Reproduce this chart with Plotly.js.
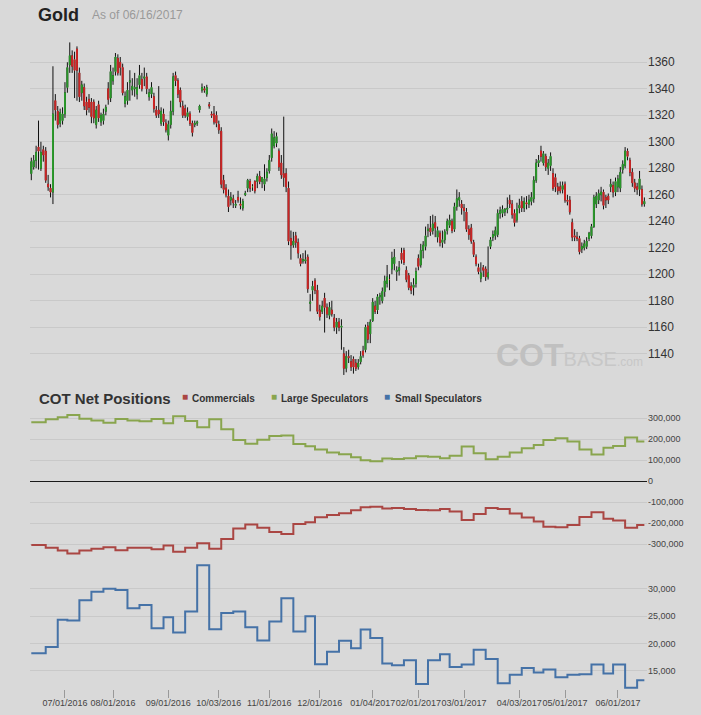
<!DOCTYPE html>
<html>
<head>
<meta charset="utf-8">
<script src="https://cdn.plot.ly/plotly-3.0.1.min.js"></script>
<style>
  html, body { margin: 0; padding: 0; background: #d9d9d9; }
  #chart { width: 701px; height: 715px; }
</style>
</head>
<body>
<div id="chart"></div>
<script>
// exchange holidays inside the period (no daily bar)
var holidays = ['2016-07-04', '2016-09-05', '2016-11-24', '2016-12-26', '2017-01-02',
    '2017-01-16', '2017-02-20', '2017-04-14', '2017-05-29'];
var firstDay = '2016-06-13';
var lastDay = '2017-06-16';

// daily gold OHLC, one value per trading day from firstDay
var open = [1276, 1281, 1286, 1296, 1280, 1294, 1293, 1268, 1265, 1262, 1331, 1323, 1314, 1316, 1321, 1341, 1358, 1365, 1362, 1370,
    1352, 1337, 1341, 1330, 1332, 1330, 1330, 1313, 1328, 1315, 1316, 1323, 1340, 1333, 1346, 1353, 1363, 1360, 1356, 1329,
    1331, 1345, 1339, 1340, 1336, 1343, 1347, 1348, 1349, 1334, 1336, 1334, 1324, 1324, 1314, 1321, 1314, 1305, 1313, 1323,
    1350, 1346, 1339, 1327, 1325, 1319, 1321, 1314, 1313, 1314, 1324, 1339, 1340, 1336, 1328, 1321, 1321, 1320, 1313, 1308,
    1271, 1265, 1259, 1256, 1257, 1252, 1258, 1253, 1250, 1260, 1265, 1270, 1266, 1270, 1270, 1274, 1270, 1268, 1273, 1278,
    1288, 1297, 1299, 1293, 1284, 1276, 1276, 1265, 1227, 1222, 1229, 1224, 1212, 1210, 1210, 1213, 1178, 1188, 1195, 1188,
    1173, 1172, 1182, 1175, 1169, 1173, 1167, 1160, 1164, 1160, 1140, 1129, 1138, 1134, 1136, 1133, 1130, 1134, 1142, 1143,
    1161, 1155, 1165, 1176, 1173, 1183, 1180, 1187, 1193, 1196, 1204, 1208, 1202, 1203, 1216, 1218, 1203, 1199, 1191, 1190,
    1193, 1212, 1207, 1218, 1221, 1233, 1235, 1233, 1239, 1228, 1231, 1224, 1226, 1233, 1237, 1240, 1234, 1251, 1256, 1253,
    1250, 1247, 1234, 1235, 1224, 1213, 1205, 1197, 1205, 1204, 1198, 1221, 1228, 1229, 1230, 1246, 1246, 1247, 1249, 1256,
    1253, 1246, 1241, 1250, 1255, 1250, 1254, 1253, 1255, 1257, 1271, 1284, 1293, 1284, 1289, 1280, 1282, 1276, 1273, 1266,
    1266, 1264, 1268, 1256, 1256, 1239, 1229, 1228, 1227, 1219, 1220, 1221, 1227, 1229, 1236, 1253, 1256, 1260, 1262, 1258,
    1259, 1266, 1267, 1262, 1266, 1265, 1279, 1282, 1293, 1286, 1277, 1269, 1266, 1264, 1264, 1253];
var high = [1288, 1290, 1297, 1316, 1300, 1297, 1296, 1275, 1268, 1357, 1336, 1327, 1325, 1326, 1345, 1360, 1375, 1369, 1368, 1372,
    1356, 1346, 1344, 1334, 1336, 1333, 1332, 1327, 1331, 1322, 1325, 1328, 1345, 1358, 1356, 1367, 1366, 1364, 1359, 1338,
    1345, 1354, 1348, 1352, 1348, 1358, 1352, 1356, 1352, 1340, 1345, 1337, 1327, 1342, 1326, 1325, 1317, 1316, 1331, 1352,
    1353, 1348, 1341, 1331, 1328, 1326, 1323, 1316, 1316, 1316, 1328, 1344, 1342, 1343, 1330, 1323, 1327, 1323, 1316, 1311,
    1275, 1268, 1264, 1262, 1260, 1256, 1263, 1258, 1257, 1263, 1272, 1272, 1268, 1271, 1276, 1278, 1273, 1283, 1280, 1290,
    1310, 1308, 1307, 1295, 1290, 1319, 1280, 1270, 1233, 1232, 1232, 1227, 1215, 1216, 1218, 1215, 1185, 1195, 1197, 1192,
    1177, 1180, 1186, 1178, 1179, 1180, 1170, 1167, 1167, 1166, 1145, 1142, 1143, 1139, 1138, 1136, 1136, 1142, 1146, 1162,
    1164, 1166, 1182, 1180, 1185, 1186, 1190, 1199, 1207, 1200, 1217, 1219, 1206, 1210, 1220, 1220, 1206, 1201, 1194, 1197,
    1205, 1215, 1223, 1225, 1236, 1238, 1244, 1245, 1244, 1236, 1233, 1233, 1234, 1242, 1245, 1242, 1254, 1264, 1262, 1256,
    1253, 1250, 1237, 1238, 1226, 1215, 1208, 1209, 1207, 1206, 1221, 1228, 1233, 1236, 1249, 1251, 1252, 1250, 1258, 1260,
    1256, 1249, 1254, 1257, 1259, 1258, 1259, 1260, 1262, 1274, 1287, 1290, 1297, 1293, 1291, 1287, 1292, 1280, 1276, 1269,
    1270, 1270, 1270, 1260, 1259, 1242, 1234, 1232, 1229, 1224, 1226, 1228, 1232, 1238, 1260, 1262, 1264, 1266, 1264, 1260,
    1261, 1272, 1270, 1273, 1275, 1281, 1286, 1296, 1295, 1288, 1280, 1272, 1269, 1278, 1267, 1258];
var low = [1271, 1279, 1280, 1279, 1278, 1285, 1269, 1263, 1258, 1253, 1316, 1310, 1311, 1313, 1318, 1337, 1352, 1352, 1333, 1331,
    1330, 1331, 1324, 1320, 1322, 1314, 1314, 1310, 1315, 1312, 1313, 1320, 1328, 1330, 1343, 1350, 1350, 1350, 1335, 1326,
    1328, 1331, 1335, 1334, 1332, 1340, 1338, 1342, 1336, 1331, 1333, 1322, 1318, 1318, 1312, 1312, 1307, 1301, 1310, 1320,
    1342, 1333, 1326, 1318, 1318, 1316, 1312, 1304, 1311, 1312, 1322, 1337, 1337, 1334, 1325, 1318, 1313, 1311, 1306, 1265,
    1261, 1258, 1247, 1252, 1250, 1250, 1254, 1249, 1248, 1259, 1262, 1262, 1263, 1261, 1265, 1268, 1265, 1263, 1270, 1276,
    1285, 1295, 1296, 1278, 1272, 1266, 1262, 1222, 1211, 1220, 1220, 1212, 1206, 1208, 1208, 1186, 1172, 1180, 1185, 1170,
    1165, 1170, 1156, 1167, 1166, 1168, 1157, 1155, 1157, 1143, 1124, 1126, 1133, 1127, 1125, 1127, 1128, 1132, 1137, 1141,
    1148, 1148, 1164, 1170, 1170, 1177, 1178, 1183, 1190, 1188, 1200, 1203, 1195, 1199, 1208, 1207, 1194, 1188, 1185, 1184,
    1190, 1203, 1205, 1212, 1218, 1228, 1229, 1230, 1228, 1224, 1221, 1220, 1223, 1230, 1235, 1231, 1232, 1248, 1251, 1245,
    1240, 1232, 1226, 1223, 1213, 1206, 1200, 1194, 1198, 1195, 1196, 1219, 1225, 1226, 1228, 1242, 1243, 1244, 1246, 1250,
    1242, 1236, 1239, 1246, 1247, 1247, 1249, 1250, 1252, 1254, 1269, 1281, 1285, 1282, 1278, 1275, 1278, 1263, 1262, 1260,
    1261, 1261, 1254, 1252, 1245, 1225, 1225, 1225, 1215, 1216, 1218, 1219, 1225, 1227, 1235, 1250, 1253, 1255, 1249, 1250,
    1253, 1262, 1258, 1259, 1262, 1262, 1276, 1280, 1286, 1274, 1266, 1262, 1260, 1259, 1251, 1251];
var close = [1285, 1286, 1292, 1293, 1292, 1290, 1271, 1266, 1262, 1321, 1324, 1313, 1322, 1321, 1337, 1356, 1365, 1357, 1354, 1354,
    1334, 1343, 1327, 1324, 1326, 1319, 1318, 1324, 1318, 1320, 1321, 1326, 1332, 1353, 1350, 1364, 1352, 1356, 1337, 1334,
    1339, 1346, 1342, 1341, 1341, 1350, 1340, 1349, 1340, 1337, 1341, 1325, 1320, 1321, 1323, 1315, 1309, 1313, 1323, 1349,
    1346, 1336, 1330, 1320, 1320, 1322, 1314, 1307, 1314, 1315, 1327, 1341, 1339, 1341, 1327, 1320, 1315, 1314, 1309, 1268,
    1264, 1260, 1251, 1258, 1254, 1253, 1256, 1252, 1255, 1261, 1271, 1265, 1266, 1263, 1274, 1270, 1273, 1272, 1277, 1286,
    1306, 1303, 1304, 1281, 1275, 1273, 1266, 1225, 1222, 1225, 1224, 1216, 1208, 1211, 1211, 1189, 1179, 1191, 1188, 1172,
    1168, 1176, 1175, 1170, 1175, 1170, 1160, 1164, 1160, 1161, 1129, 1138, 1137, 1130, 1130, 1129, 1133, 1138, 1139, 1160,
    1151, 1164, 1179, 1172, 1183, 1184, 1187, 1195, 1198, 1196, 1212, 1213, 1203, 1205, 1211, 1209, 1196, 1190, 1188, 1192,
    1202, 1206, 1218, 1222, 1229, 1234, 1232, 1238, 1235, 1233, 1224, 1226, 1232, 1240, 1241, 1233, 1251, 1257, 1258, 1250,
    1248, 1234, 1230, 1225, 1215, 1208, 1202, 1201, 1203, 1198, 1201, 1226, 1230, 1233, 1246, 1248, 1249, 1249, 1250, 1253,
    1245, 1239, 1249, 1252, 1250, 1255, 1253, 1256, 1258, 1271, 1284, 1286, 1289, 1291, 1281, 1284, 1289, 1265, 1266, 1263,
    1263, 1267, 1256, 1255, 1247, 1228, 1228, 1227, 1217, 1221, 1223, 1225, 1231, 1236, 1258, 1259, 1261, 1262, 1252, 1256,
    1256, 1268, 1262, 1270, 1272, 1277, 1283, 1293, 1289, 1277, 1269, 1265, 1264, 1272, 1253, 1255];

// weekly COT net positions (report Tuesdays), first entry holds the value in force on the first chart day
var cotDates = ['2016-06-13', '2016-06-21', '2016-06-28', '2016-07-05', '2016-07-12', '2016-07-19', '2016-07-26', '2016-08-02',
    '2016-08-09', '2016-08-16', '2016-08-23', '2016-08-30', '2016-09-06', '2016-09-13', '2016-09-20', '2016-09-27',
    '2016-10-04', '2016-10-11', '2016-10-18', '2016-10-25', '2016-11-01', '2016-11-08', '2016-11-15', '2016-11-22',
    '2016-11-29', '2016-12-06', '2016-12-13', '2016-12-20', '2016-12-27', '2017-01-03', '2017-01-10', '2017-01-17',
    '2017-01-24', '2017-01-31', '2017-02-07', '2017-02-14', '2017-02-21', '2017-02-28', '2017-03-07', '2017-03-14',
    '2017-03-21', '2017-03-28', '2017-04-04', '2017-04-11', '2017-04-18', '2017-04-25', '2017-05-02', '2017-05-09',
    '2017-05-16', '2017-05-23', '2017-05-30', '2017-06-06', '2017-06-13'];
var commercials = [-303000, -317000, -330000, -344000, -330000, -321000, -314000, -329000, -317000, -316000, -324000, -306000,
    -335000, -316000, -295000, -321000, -275000, -225000, -206000, -221000, -241000, -251000, -203000, -195000, -171000,
    -160000, -152000, -138000, -124000, -121000, -130000, -127000, -132000, -137000, -138000, -132000, -144000, -184000,
    -156000, -127000, -132000, -154000, -173000, -192000, -216000, -219000, -208000, -170000, -148000, -178000, -187000,
    -221000, -208000];
var largeSpecs = [281000, 295000, 305000, 316000, 298000, 289000, 279000, 297000, 289000, 286000, 297000, 276000, 310000,
    287000, 257000, 295000, 248000, 197000, 179000, 198000, 216000, 218000, 178000, 167000, 151000, 137000, 129000, 114000,
    100000, 95000, 108000, 106000, 110000, 119000, 117000, 110000, 122000, 165000, 133000, 105000, 117000, 137000, 157000,
    173000, 197000, 205000, 189000, 151000, 127000, 160000, 168000, 208000, 189000];
var smallSpecs = [18210, 19360, 24320, 24200, 27880, 29460, 30000, 29760, 26430, 27040, 22800, 24800, 22020, 25830, 34290,
    22620, 25590, 25830, 22990, 20570, 24010, 28250, 22200, 24980, 16210, 18510, 20510, 19120, 22560, 20990, 16340, 16030,
    16940, 12590, 16940, 18030, 15730, 16150, 18870, 17180, 12770, 14280, 15550, 14710, 15250, 13860, 14280, 14400, 16150,
    14520, 16150, 11920, 13310];

var tickDates = ['2016-07-01', '2016-08-01', '2016-09-01', '2016-10-03', '2016-11-01', '2016-12-01', '2017-01-04',
    '2017-02-01', '2017-03-01', '2017-04-03', '2017-05-01', '2017-06-01'];
var tickLabels = ['07/01/2016', '08/01/2016', '09/01/2016', '10/03/2016', '11/01/2016', '12/01/2016', '01/04/2017',
    '02/01/2017', '03/01/2017', '04/03/2017', '05/01/2017', '06/01/2017'];
var priceTicks = [1140, 1160, 1180, 1200, 1220, 1240, 1260, 1280, 1300, 1320, 1340, 1360];
var cotTicks = [-300000, -200000, -100000, 0, 100000, 200000, 300000];
var cotTickText = ['-300,000', '-200,000', '-100,000', '0', '100,000', '200,000', '300,000'];
var smallTicks = [15000, 20000, 25000, 30000];
var smallTickText = ['15,000', '20,000', '25,000', '30,000'];

var UP = '#2b9b2b', DOWN = '#d22626';
var COLORS = { commercials: '#AA4643', large: '#89A54E', small: '#4572A7' };

// trading calendar: weekdays minus holidays
function tradingDays(from, to, skip) {
    var days = [];
    var d = new Date(from + 'T00:00:00Z');
    var end = new Date(to + 'T00:00:00Z');
    while (d <= end) {
        var iso = d.toISOString().slice(0, 10);
        var wd = d.getUTCDay();
        if (wd !== 0 && wd !== 6 && skip.indexOf(iso) < 0) days.push(iso);
        d.setUTCDate(d.getUTCDate() + 1);
    }
    return days;
}
var days = tradingDays(firstDay, lastDay, holidays);

var bodyTop = open.map(function (o, i) { return Math.max(o, close[i]); });
var bodyBottom = open.map(function (o, i) { return Math.min(o, close[i]); });

// hold the last weekly value until the last chart day
var cotX = cotDates.concat([lastDay]);
var hold = function (arr) { return arr.concat([arr[arr.length - 1]]); };

var wicks = {
    type: 'candlestick', x: days, open: open, high: high, low: low, close: close,
    xaxis: 'x', yaxis: 'y', name: 'Gold',
    increasing: { line: { color: '#111', width: 1 }, fillcolor: '#111' },
    decreasing: { line: { color: '#111', width: 1 }, fillcolor: '#111' },
    showlegend: false
};
var bodies = {
    type: 'candlestick', x: days, open: open, high: bodyTop, low: bodyBottom, close: close,
    xaxis: 'x', yaxis: 'y', hoverinfo: 'skip',
    increasing: { line: { color: UP, width: 1 }, fillcolor: UP },
    decreasing: { line: { color: DOWN, width: 1 }, fillcolor: DOWN },
    showlegend: false
};
var lineCom = {
    type: 'scatter', mode: 'lines', name: 'Commercials', x: cotX, y: hold(commercials),
    xaxis: 'x', yaxis: 'y2', line: { color: COLORS.commercials, width: 2, shape: 'hv' }, showlegend: false
};
var lineLarge = {
    type: 'scatter', mode: 'lines', name: 'Large Speculators', x: cotX, y: hold(largeSpecs),
    xaxis: 'x', yaxis: 'y2', line: { color: COLORS.large, width: 2, shape: 'hv' }, showlegend: false
};
var lineSmall = {
    type: 'scatter', mode: 'lines', name: 'Small Speculators', x: cotX, y: hold(smallSpecs),
    xaxis: 'x', yaxis: 'y3', line: { color: COLORS.small, width: 2, shape: 'hv' }, showlegend: false
};

// paper coordinates from page pixels (plot area 30..647 x 35..689)
var px = function (x) { return (x - 30) / 617; };
var py = function (y) { return (689 - y) / 654; };

var legendItems = [
    { label: 'Commercials', color: COLORS.commercials, sq: 185, tx: 190 },
    { label: 'Large Speculators', color: COLORS.large, sq: 274, tx: 279 },
    { label: 'Small Speculators', color: COLORS.small, sq: 387, tx: 393 }
];
var annotations = [
    { text: 'As of 06/16/2017', x: px(90), y: py(15), xanchor: 'left', yanchor: 'middle',
      font: { size: 12, color: '#999' } },
    { text: '<b>COT Net Positions</b>', x: px(37), y: py(398), xanchor: 'left', yanchor: 'middle',
      font: { size: 15, color: '#333' } },
    { text: '<span style="font-weight:bold;font-size:32px;fill:#c0c0c0">COT</span><span style="font-size:20px">BASE</span>' +
            '<span style="font-size:12px">.com</span>',
      x: px(645), y: py(355), xanchor: 'right', yanchor: 'middle', font: { color: '#c7c7c7' } }
];
legendItems.forEach(function (it) {
    annotations.push({ text: '■', x: px(it.sq), y: py(397), xanchor: 'center', yanchor: 'middle',
        font: { size: 10, color: it.color } });
    annotations.push({ text: '<b>' + it.label + '</b>', x: px(it.tx), y: py(398), xanchor: 'left', yanchor: 'middle',
        font: { size: 10, color: '#333' } });
});
annotations.forEach(function (a) { a.xref = 'paper'; a.yref = 'paper'; a.showarrow = false; });

var layout = {
    width: 701, height: 715,
    margin: { l: 30, r: 54, t: 35, b: 26 },
    paper_bgcolor: '#d9d9d9', plot_bgcolor: '#d9d9d9',
    font: { family: 'Liberation Sans, Arial, sans-serif', color: '#333' },
    title: { text: '<b>Gold</b>', x: 38 / 701, xref: 'container', xanchor: 'left',
             y: 1 - 15 / 715, yref: 'container', yanchor: 'middle', font: { size: 18, color: '#222' } },
    showlegend: false,
    boxgap: 0.5,
    xaxis: {
        type: 'category', categoryorder: 'array', categoryarray: days,
        anchor: 'y3', range: [-0.54, 256.1],
        tickmode: 'array', tickvals: tickDates, ticktext: tickLabels, tickangle: 0,
        ticks: 'outside', ticklen: 8, tickcolor: '#999', tickfont: { size: 9, color: '#444' },
        ticklabelstandoff: -3,
        showgrid: false, showline: false, zeroline: false, automargin: false,
        rangeslider: { visible: false }, fixedrange: true
    },
    yaxis: {
        domain: [0.4725, 1], range: [1120.2, 1380.6], side: 'right', anchor: 'x',
        tickmode: 'array', tickvals: priceTicks, tickfont: { size: 12, color: '#333' },
        gridcolor: '#c9c9c9', zeroline: false, showline: false, ticks: '', fixedrange: true
    },
    yaxis2: {
        domain: [0.2034, 0.4297], range: [-355700, 349000], side: 'right', anchor: 'x',
        tickmode: 'array', tickvals: cotTicks, ticktext: cotTickText, tickfont: { size: 9, color: '#444' },
        gridcolor: '#c9c9c9', zeroline: true, zerolinecolor: '#1a1a1a', zerolinewidth: 1.5,
        showline: false, ticks: '', fixedrange: true
    },
    yaxis3: {
        domain: [0, 0.1972], range: [11700, 35240], side: 'right', anchor: 'x',
        tickmode: 'array', tickvals: smallTicks, ticktext: smallTickText, tickfont: { size: 9, color: '#444' },
        gridcolor: '#c9c9c9', zeroline: false, showline: false, ticks: '', fixedrange: true
    },
    annotations: annotations
};

Plotly.newPlot('chart', [wicks, bodies, lineCom, lineLarge, lineSmall], layout, { displayModeBar: false, staticPlot: true });
</script>
</body>
</html>
